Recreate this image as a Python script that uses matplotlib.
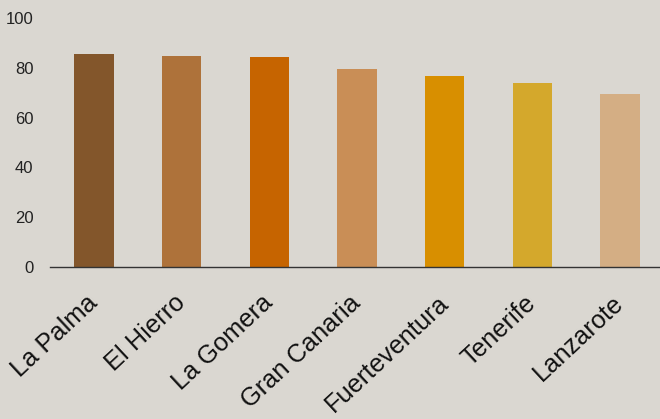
import matplotlib
matplotlib.use("Agg")
import matplotlib.pyplot as plt
import matplotlib.transforms as mtransforms

islands = ["La Palma", "El Hierro", "La Gomera", "Gran Canaria", "Fuerteventura", "Tenerife", "Lanzarote"]
values = [85.4, 84.8, 84.5, 79.6, 76.6, 73.8, 69.4]
colors = ["#83562b", "#ae723a", "#c66400", "#c98e56", "#d88f00", "#d4a82c", "#d4ae84"]
yticks = [0, 20, 40, 60, 80, 100]

bg = "#dad7d1"
plt.rcParams["font.family"] = ["Liberation Sans", "DejaVu Sans"]

fig = plt.figure(figsize=(6.6, 4.19), dpi=100, facecolor=bg)
ax = fig.add_axes([0.076, 0.363, 0.93, 0.594], facecolor=bg)

x = range(len(islands))
ax.bar(x, values, width=0.45, color=colors)

ax.set_ylim(0, 100)
ax.set_xlim(-0.5, 6.5)
ax.set_yticks(yticks)
ax.set_xticks(list(x))
ax.set_xticklabels(islands, rotation=43, ha="right", rotation_mode="anchor", fontsize=18.3)
ax.tick_params(axis="y", length=0, labelsize=12, pad=12, colors="#222222")
ax.tick_params(axis="x", length=0, pad=17, colors="#111111")

# nudge rotated labels slightly left, like the original
shift = mtransforms.ScaledTranslation(-8 / 100, 0, fig.dpi_scale_trans)
for lbl in ax.get_xticklabels():
    lbl.set_transform(lbl.get_transform() + shift)

for s in ["top", "right", "left"]:
    ax.spines[s].set_visible(False)
ax.spines["bottom"].set_color("#333333")
ax.spines["bottom"].set_linewidth(1.0)

fig.savefig("out.png", dpi=100, facecolor=bg)
